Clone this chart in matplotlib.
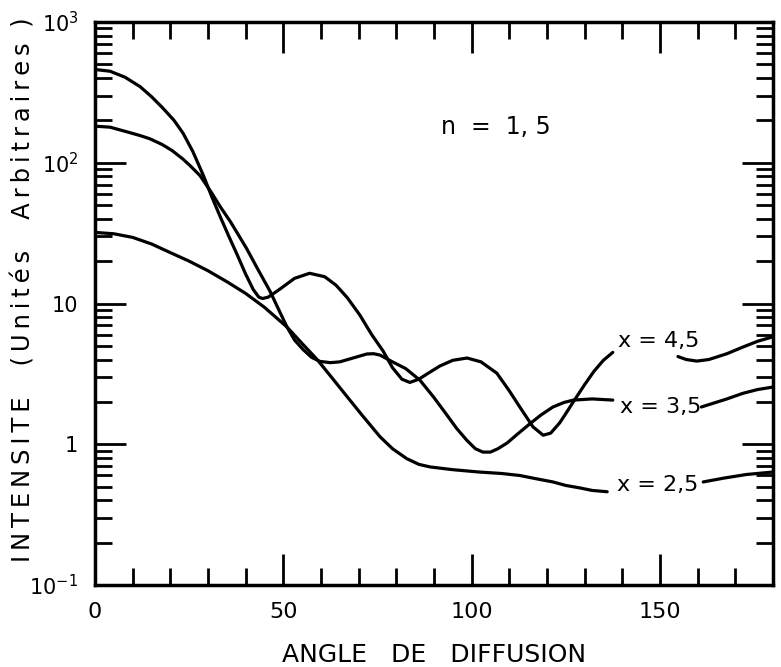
import numpy as np
import matplotlib
matplotlib.use("Agg")
import matplotlib.pyplot as plt
from matplotlib.ticker import LogLocator, MultipleLocator, FixedLocator, NullFormatter

plt.rcParams['font.family'] = ['DejaVu Sans']
plt.rcParams['mathtext.default'] = 'regular'

# courbe x = 4,5 (deux morceaux, coupee par l'etiquette)
ang45_a = [0, 4, 8, 12, 15, 18, 21, 23.4, 26, 28.8, 31, 33.2, 35.5, 37.7, 40, 42, 43.5,
           44.5, 46, 49, 53, 57, 61, 64, 67, 70.3, 73.5, 76.5, 79, 81.5, 83.6, 86, 88.5,
           91.6, 95, 98.8, 102.5, 106.7, 110, 112.8, 116.3, 119, 121, 123.4, 125, 127,
           130, 132.5, 135, 137.5]
int45_a = [460, 447, 405, 347, 295, 245, 200, 162, 120, 81, 57.5, 41.7, 30.2, 22.4, 16.2,
           12.6, 11.1, 10.85, 11.1, 12.6, 15.1, 16.4, 15.5, 13.5, 11, 8.3, 6, 4.6, 3.5,
           2.9, 2.75, 2.9, 3.2, 3.6, 3.95, 4.1, 3.85, 3.2, 2.4, 1.84, 1.33, 1.16, 1.2,
           1.42, 1.65, 2.0, 2.65, 3.3, 3.95, 4.5]
ang45_b = [154.8, 157, 159.8, 163, 167.8, 172, 176, 180]
int45_b = [4.2, 4.0, 3.9, 4.0, 4.4, 4.9, 5.4, 5.8]

# courbe x = 3,5
ang35_a = [0, 4, 8.8, 12, 14.6, 17.8, 20.5, 23.4, 25.5, 27.9, 31, 33.2, 36, 38, 40.3, 43,
           46.5, 49, 51, 53, 55.3, 57.5, 59.7, 62.5, 65, 68.5, 72.2, 74, 75.7, 79, 82.5,
           86.3, 90, 93.4, 96, 98.7, 101, 103, 105, 107, 109.4, 112.5, 115.5, 118.5, 121.6,
           124.5, 127, 132, 137.5]
int35_a = [182, 179, 165, 156, 148, 135, 122, 106, 94, 81, 61, 49, 38, 31, 24.5, 18,
           12.2, 8.8, 6.8, 5.5, 4.7, 4.15, 3.88, 3.8, 3.85, 4.1, 4.38, 4.4, 4.3, 3.85, 3.45,
           2.85, 2.15, 1.62, 1.3, 1.07, 0.93, 0.88, 0.88, 0.93, 1.02, 1.2, 1.4, 1.62, 1.84,
           1.98, 2.06, 2.1, 2.06]
ang35_b = [161, 164, 167.8, 172, 176, 180]
int35_b = [1.84, 1.95, 2.1, 2.3, 2.45, 2.55]

# courbe x = 2,5
ang25_a = [0, 5, 10, 15, 20, 25, 30, 35, 40, 45, 51, 55, 59, 63, 67, 71, 75.7, 79, 82.8,
           86, 89, 95, 102, 108, 112.8, 117, 121.6, 125, 128.7, 132, 136]
int25_a = [32, 31.3, 29.5, 26.5, 23, 20, 17.1, 14.3, 11.8, 9.4, 6.8, 5.2, 4.0, 2.95, 2.17,
           1.6, 1.13, 0.93, 0.79, 0.72, 0.69, 0.66, 0.635, 0.62, 0.6, 0.57, 0.54, 0.51,
           0.49, 0.47, 0.46]
ang25_b = [161.5, 167, 173, 180]
int25_b = [0.54, 0.575, 0.61, 0.635]

labels = ['x = 4,5', 'x = 3,5', 'x = 2,5']
label_pos = [(139, 5.4), (139.5, 1.84), (138.7, 0.51)]


def espace(s):
    # lettres espacees comme sur le trace original
    return '\u2009'.join(s)


fig = plt.figure(figsize=(7.81, 6.67), dpi=100)
ax = fig.add_axes([0.1216, 0.1229, 0.868, 0.8441])

lw = 2.3
for a, i in [(ang45_a, int45_a), (ang45_b, int45_b), (ang35_a, int35_a),
             (ang35_b, int35_b), (ang25_a, int25_a), (ang25_b, int25_b)]:
    ax.plot(a, i, color='black', lw=lw, solid_capstyle='round', solid_joinstyle='round')

for lab, (lx, ly) in zip(labels, label_pos):
    ax.text(lx, ly, lab, fontsize=16, va='center', ha='left')

ax.text(92, 180, 'n  =  1, 5', fontsize=17, va='center', ha='left')

ax.set_yscale('log')
ax.set_xlim(0, 180)
ax.set_ylim(0.1, 1000)

ax.xaxis.set_major_locator(FixedLocator([0, 50, 100, 150]))
ax.xaxis.set_minor_locator(MultipleLocator(10))
ax.set_xticklabels(['0', '50', '100', '150'], fontsize=16)
ax.yaxis.set_major_locator(FixedLocator([0.1, 1, 10, 100, 1000]))
ax.yaxis.set_minor_locator(LogLocator(base=10, subs=np.arange(2, 10), numticks=20))
ax.yaxis.set_minor_formatter(NullFormatter())
ax.set_yticklabels([r'$10^{-1}$', '1', '10', r'$10^{2}$', r'$10^{3}$'], fontsize=15)

ax.tick_params(which='both', direction='in', top=True, right=True, width=2)
ax.tick_params(which='major', length=22, pad=12)
ax.tick_params(which='minor', length=12)
for s in ax.spines.values():
    s.set_linewidth(2.5)

ax.set_xlabel('ANGLE   DE   DIFFUSION', fontsize=18, labelpad=15)
ax.set_ylabel(espace('INTENSITE') + '    ' + espace('(Unités') + '    '
              + espace('Arbitraires') + '  )', fontsize=17.5)
ax.yaxis.set_label_coords(-0.087, 0.524)

fig.savefig('out.png', dpi=100)
